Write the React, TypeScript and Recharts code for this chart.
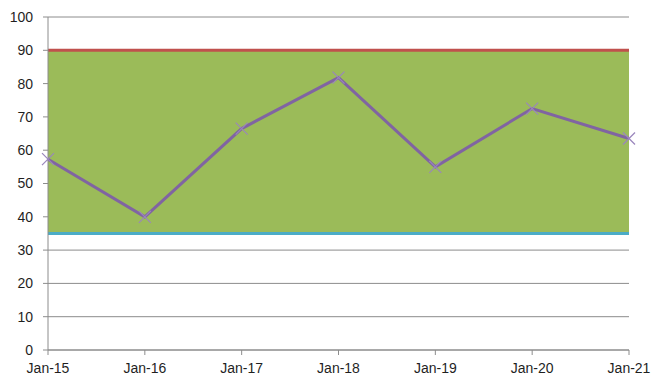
import React from "react";
import {
  ComposedChart,
  Line,
  XAxis,
  YAxis,
  CartesianGrid,
  ReferenceArea,
  ReferenceLine,
} from "recharts";

const categories = ["Jan-15", "Jan-16", "Jan-17", "Jan-18", "Jan-19", "Jan-20", "Jan-21"];
const values = [57.3, 40, 66.5, 81.8, 55, 72.5, 63.5];
const lowerLimit = 35;
const upperLimit = 90;
const yTicks = [0, 10, 20, 30, 40, 50, 60, 70, 80, 90, 100];

const data = categories.map((c, i) => ({ date: c, value: values[i] }));

const XDot = (props: any) => {
  const { cx, cy } = props;
  if (cx == null || cy == null) return null;
  const s = 6;
  return (
    <g>
      <line x1={cx - s} y1={cy - s} x2={cx + s} y2={cy + s} stroke="#9A86BC" strokeWidth={1.2} />
      <line x1={cx - s} y1={cy + s} x2={cx + s} y2={cy - s} stroke="#9A86BC" strokeWidth={1.2} />
    </g>
  );
};

const tickStyle = { fontFamily: "Liberation Sans, Arial, sans-serif", fontSize: 14, fill: "#1F1F1F" };

export default function App() {
  return (
    <div style={{ margin: -8, width: 660, height: 386, background: "#fff" }}>
      <ComposedChart
        width={660}
        height={386}
        data={data}
        margin={{ top: 17, right: 31, bottom: 6, left: 8 }}
      >
        <CartesianGrid horizontal vertical={false} stroke="#8C8C8C" strokeWidth={1} />
        <XAxis
          dataKey="date"
          scale="point"
          padding={{ left: 0, right: 0 }}
          height={30}
          stroke="#8C8C8C"
          tickSize={5}
          tickMargin={8}
          tick={tickStyle}
          interval={0}
        />
        <YAxis
          domain={[0, 100]}
          ticks={yTicks}
          width={40}
          stroke="#8C8C8C"
          tickSize={5}
          tickMargin={10}
          tick={tickStyle}
          interval={0}
        />
        <ReferenceArea y1={lowerLimit} y2={upperLimit} fill="#9BBB59" fillOpacity={1} stroke="none" />
        <ReferenceLine y={upperLimit} stroke="#C0504D" strokeWidth={3} />
        <ReferenceLine y={lowerLimit} stroke="#4BACC6" strokeWidth={3} />
        <Line
          dataKey="value"
          stroke="#8064A2"
          strokeWidth={3}
          dot={<XDot />}
          activeDot={false}
          isAnimationActive={false}
        />
      </ComposedChart>
    </div>
  );
}
